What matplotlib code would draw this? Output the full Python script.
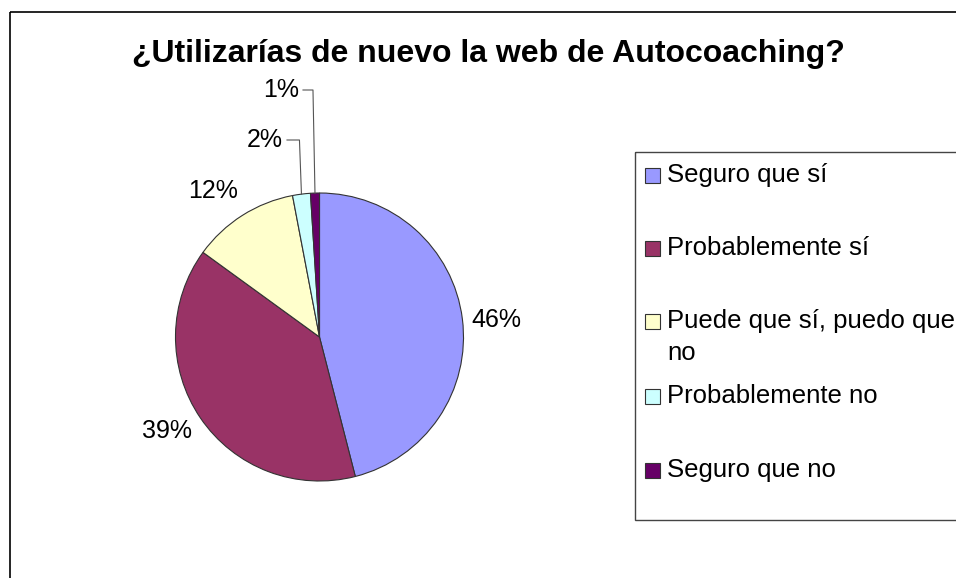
import numpy as np
import matplotlib
matplotlib.use("Agg")
import matplotlib.pyplot as plt
from matplotlib.patches import Rectangle

plt.rcParams['font.family'] = ['Liberation Sans', 'DejaVu Sans']

# datos
titulo = "¿Utilizarías de nuevo la web de Autocoaching?"
categorias = ["Seguro que sí", "Probablemente sí", "Puede que sí, puedo que\nno",
              "Probablemente no", "Seguro que no"]
porcentajes = [46, 39, 12, 2, 1]
colores = ["#9999FF", "#993366", "#FFFFCC", "#CCFFFF", "#660066"]

W, H = 956, 578
fig = plt.figure(figsize=(W / 100, H / 100), dpi=100)
ax = fig.add_axes([0, 0, 1, 1])

# tarta (eje y invertido -> antihorario en datos = horario en pantalla)
cx, cy, r = 319.5, 337, 144
wedges, _ = ax.pie(porcentajes, colors=colores, center=(cx, cy), radius=r,
                   startangle=-90, counterclock=True,
                   wedgeprops=dict(ec='#333333', lw=0.8), frame=True)
ax.set_xlim(0, W)
ax.set_ylim(H, 0)
ax.set_aspect('equal')
ax.axis('off')

# marco del grafico
ax.add_patch(Rectangle((10, 12), W + 20, H + 20, fill=False, ec='black', lw=1.2))

ax.text(488, 62, titulo, ha='center', va='baseline', fontsize=23, fontweight='bold')

# etiquetas (esquina izquierda / linea base)
pos_etiquetas = [(471, 327), (142, 438), (188, 198), (247, 147), (263, 97)]
textos = []
for p, (tx, ty) in zip(porcentajes, pos_etiquetas):
    textos.append(ax.text(tx, ty, f"{p}%", ha='left', va='baseline', fontsize=18))

# lineas guia para los sectores pequenos
fig.canvas.draw()
inv = ax.transData.inverted()
for i in (3, 4):
    bb = textos[i].get_window_extent()
    (x1, y1), (x2, y2) = inv.transform([[bb.x0, bb.y0], [bb.x1, bb.y1]])
    ly = pos_etiquetas[i][1] - 7
    w = wedges[i]
    ang = np.deg2rad((w.theta1 + w.theta2) / 2)
    ex, ey = cx + r * np.cos(ang), cy + r * np.sin(ang)
    ax.plot([x2 + 4, ex - 2, ex], [ly, ly, ey], color='#555555', lw=0.8)

# leyenda
ax.add_patch(Rectangle((635, 152), 400, 368, fill=False, ec='#444444', lw=1))
bases = [182, 255, 328, 403, 477]
for c, lab, y in zip(colores, categorias, bases):
    ax.add_patch(Rectangle((645, y - 14), 15, 15, fc=c, ec='#333333', lw=0.8))
    for k, linea in enumerate(lab.split('\n')):
        ax.text(667, y + 32 * k, linea, ha='left', va='baseline', fontsize=18.5)

fig.savefig('out.png', dpi=100)
